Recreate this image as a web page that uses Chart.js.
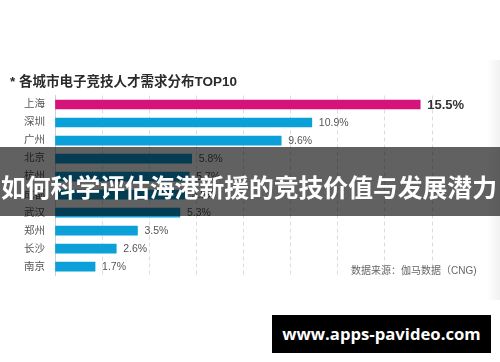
<!DOCTYPE html>
<html>
<head>
<meta charset="utf-8">
<script src="https://cdn.jsdelivr.net/npm/chart.js@4"></script>
<style>
  body { margin: 0; background: #fff; }
  #wrap { position: relative; width: 500px; height: 362px; overflow: hidden; background: #fff; }
  #wrap div { position: absolute; white-space: nowrap; }
  .title { left: 10px; top: 75px; font: bold 13.5px/13.5px "Liberation Sans", "Noto Sans CJK SC", sans-serif; color: #2b2b2b; }
  .source { left: 351px; top: 266px; font: 10px/10px "Liberation Sans", "Noto Sans CJK SC", sans-serif; color: #666; }
  .fade { left: 486px; top: 60px; width: 14px; height: 240px; background: linear-gradient(to right, rgba(0,0,0,0), rgba(0,0,0,0.05)); }
  .banner { left: 0; top: 147px; width: 500px; height: 69px; background: rgba(0,0,0,0.62); }
  .bannerText { left: 1px; top: 174px; font: bold 24.8px/24.8px "Noto Sans CJK SC", sans-serif; color: #fff; }
  .mark { left: 272px; top: 315px; width: 219px; height: 38px; background: #000; color: #fff;
          font: bold 16.7px/38px "Open Sans", sans-serif; text-align: center; }
</style>
</head>
<body>
<div id="wrap">
  <canvas id="grafico" width="500" height="362"></canvas>
  <div class="title">* 各城市电子竞技人才需求分布TOP10</div>
  <div class="source">数据来源：伽马数据（CNG)</div>
  <div class="fade"></div>
  <div class="banner"></div>
  <div class="bannerText">如何科学评估海港新援的竞技价值与发展潜力</div>
  <div class="mark">www.apps-pavideo.com</div>
</div>
<script>
// dados do gráfico
const cidades = ["上海", "深圳", "广州", "北京", "杭州", "成都", "武汉", "郑州", "长沙", "南京"];
const percentuais = [15.5, 10.9, 9.6, 5.8, 5.7, 5.5, 5.3, 3.5, 2.6, 1.7];
const eixoMax = 16;
const eixoPasso = 2;

const fonte = '"Liberation Sans", "Noto Sans CJK SC", sans-serif';
const cores = percentuais.map((v, i) => i === 0 ? "#d6137b" : "#0ba0d8");

// rótulos de valor ao lado das barras
const rotulos = {
    id: "rotulos",
    afterDatasetsDraw(chart) {
        const ctx = chart.ctx;
        const meta = chart.getDatasetMeta(0);
        ctx.save();
        ctx.textBaseline = "middle";
        ctx.textAlign = "left";
        meta.data.forEach((barra, i) => {
            if (i === 0) {
                ctx.font = "bold 13px " + fonte;
                ctx.fillStyle = "#333";
            } else {
                ctx.font = "10.5px " + fonte;
                ctx.fillStyle = "#555";
            }
            ctx.fillText(percentuais[i].toFixed(1) + "%", barra.x + 7, barra.y + 0.5);
        });
        ctx.restore();
    }
};

new Chart(document.getElementById("grafico").getContext("2d"), {
    type: "bar",
    data: {
        labels: cidades,
        datasets: [{
            data: percentuais,
            backgroundColor: cores,
            barThickness: 9,
            borderWidth: 0
        }]
    },
    options: {
        indexAxis: "y",
        responsive: false,
        animation: false,
        devicePixelRatio: 1,
        layout: { padding: { top: 95.5, bottom: 86.3, left: 0, right: 68 } },
        plugins: {
            legend: { display: false },
            tooltip: { enabled: false }
        },
        scales: {
            x: {
                min: 0,
                max: eixoMax,
                ticks: { display: false, stepSize: eixoPasso },
                grid: {
                    color: c => c.tick && c.tick.value === 0 ? "rgba(0,0,0,0)" : "#dcdcdc",
                    drawTicks: false
                },
                border: { display: false, dash: [4, 3] },
                afterFit: s => { s.height = 0; }
            },
            y: {
                ticks: { color: "#555", font: { size: 10.5, family: fonte }, padding: 10 },
                grid: { color: "rgba(0,0,0,0)", drawTicks: false },
                border: { display: true, color: "#d0d0d0", width: 1 },
                afterFit: s => { s.width = 55; }
            }
        }
    },
    plugins: [rotulos]
});
</script>
</body>
</html>
